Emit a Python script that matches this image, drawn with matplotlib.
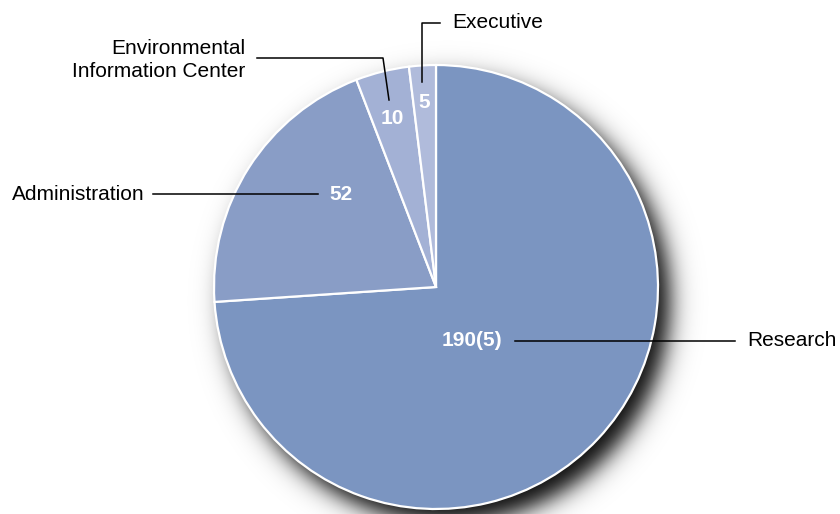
import numpy as np
import matplotlib
matplotlib.use("Agg")
import matplotlib.pyplot as plt

plt.rcParams['font.family'] = ['Liberation Sans', 'DejaVu Sans']

# staff counts per division
divisions = ['Research', 'Administration', 'Environmental\nInformation Center', 'Executive']
staff = [190, 52, 10, 5]
value_text = ['190(5)', '52', '10', '5']
colors = ['#7b95c1', '#899dc6', '#a3b1d5', '#b0bbdb']

W, H = 840, 514
cx, cy, R = 436, 227, 222
fs = 15

fig = plt.figure(figsize=(W / 100, H / 100), dpi=100)
ax = fig.add_axes([0, 0, 1, 1])

# soft drop shadow, offset to the lower right
yy, xx = np.mgrid[0:H, 0:W]
d = np.hypot(xx + 0.5 - (cx + 12), (H - yy - 0.5) - (cy - 14))
alpha = 0.97 / (1 + np.exp((d - R) / 7.0))
shadow = np.zeros((H, W, 4))
shadow[..., 3] = alpha
ax.imshow(shadow, extent=[0, W, 0, H], zorder=0, interpolation='bilinear')

ax.pie(staff, colors=colors, startangle=90, counterclock=False,
       center=(cx, cy), radius=R, frame=True,
       wedgeprops=dict(edgecolor='white', linewidth=1.6, zorder=1))

ax.set_xlim(0, W)
ax.set_ylim(0, H)
ax.set_aspect('equal')
ax.axis('off')

# value labels inside the slices
value_pos = [(472, 173), (341, 320), (392, 396), (424, 411)]
for t, (x, y) in zip(value_text, value_pos):
    ax.text(x, y, t, color='white', fontsize=fs, fontweight='bold',
            ha='center', va='center', zorder=3)

# leader lines and category names
lk = dict(color='black', lw=1.1, zorder=2)
ax.plot([515, 735], [173, 173], **lk)
ax.text(747, 173, divisions[0], fontsize=fs, ha='left', va='center')

ax.plot([153, 318], [320, 320], **lk)
ax.text(145, 320, divisions[1], fontsize=fs, ha='right', va='center')

ax.plot([257, 383, 389], [456, 456, 414], **lk)
ax.text(245, 454, divisions[2], fontsize=fs, ha='right', va='center',
        multialignment='right', linespacing=1.3)

ax.plot([440, 422, 422], [491, 491, 432], **lk)
ax.text(452, 491, divisions[3], fontsize=fs, ha='left', va='center')

fig.savefig('out.png', dpi=100, facecolor='white')
